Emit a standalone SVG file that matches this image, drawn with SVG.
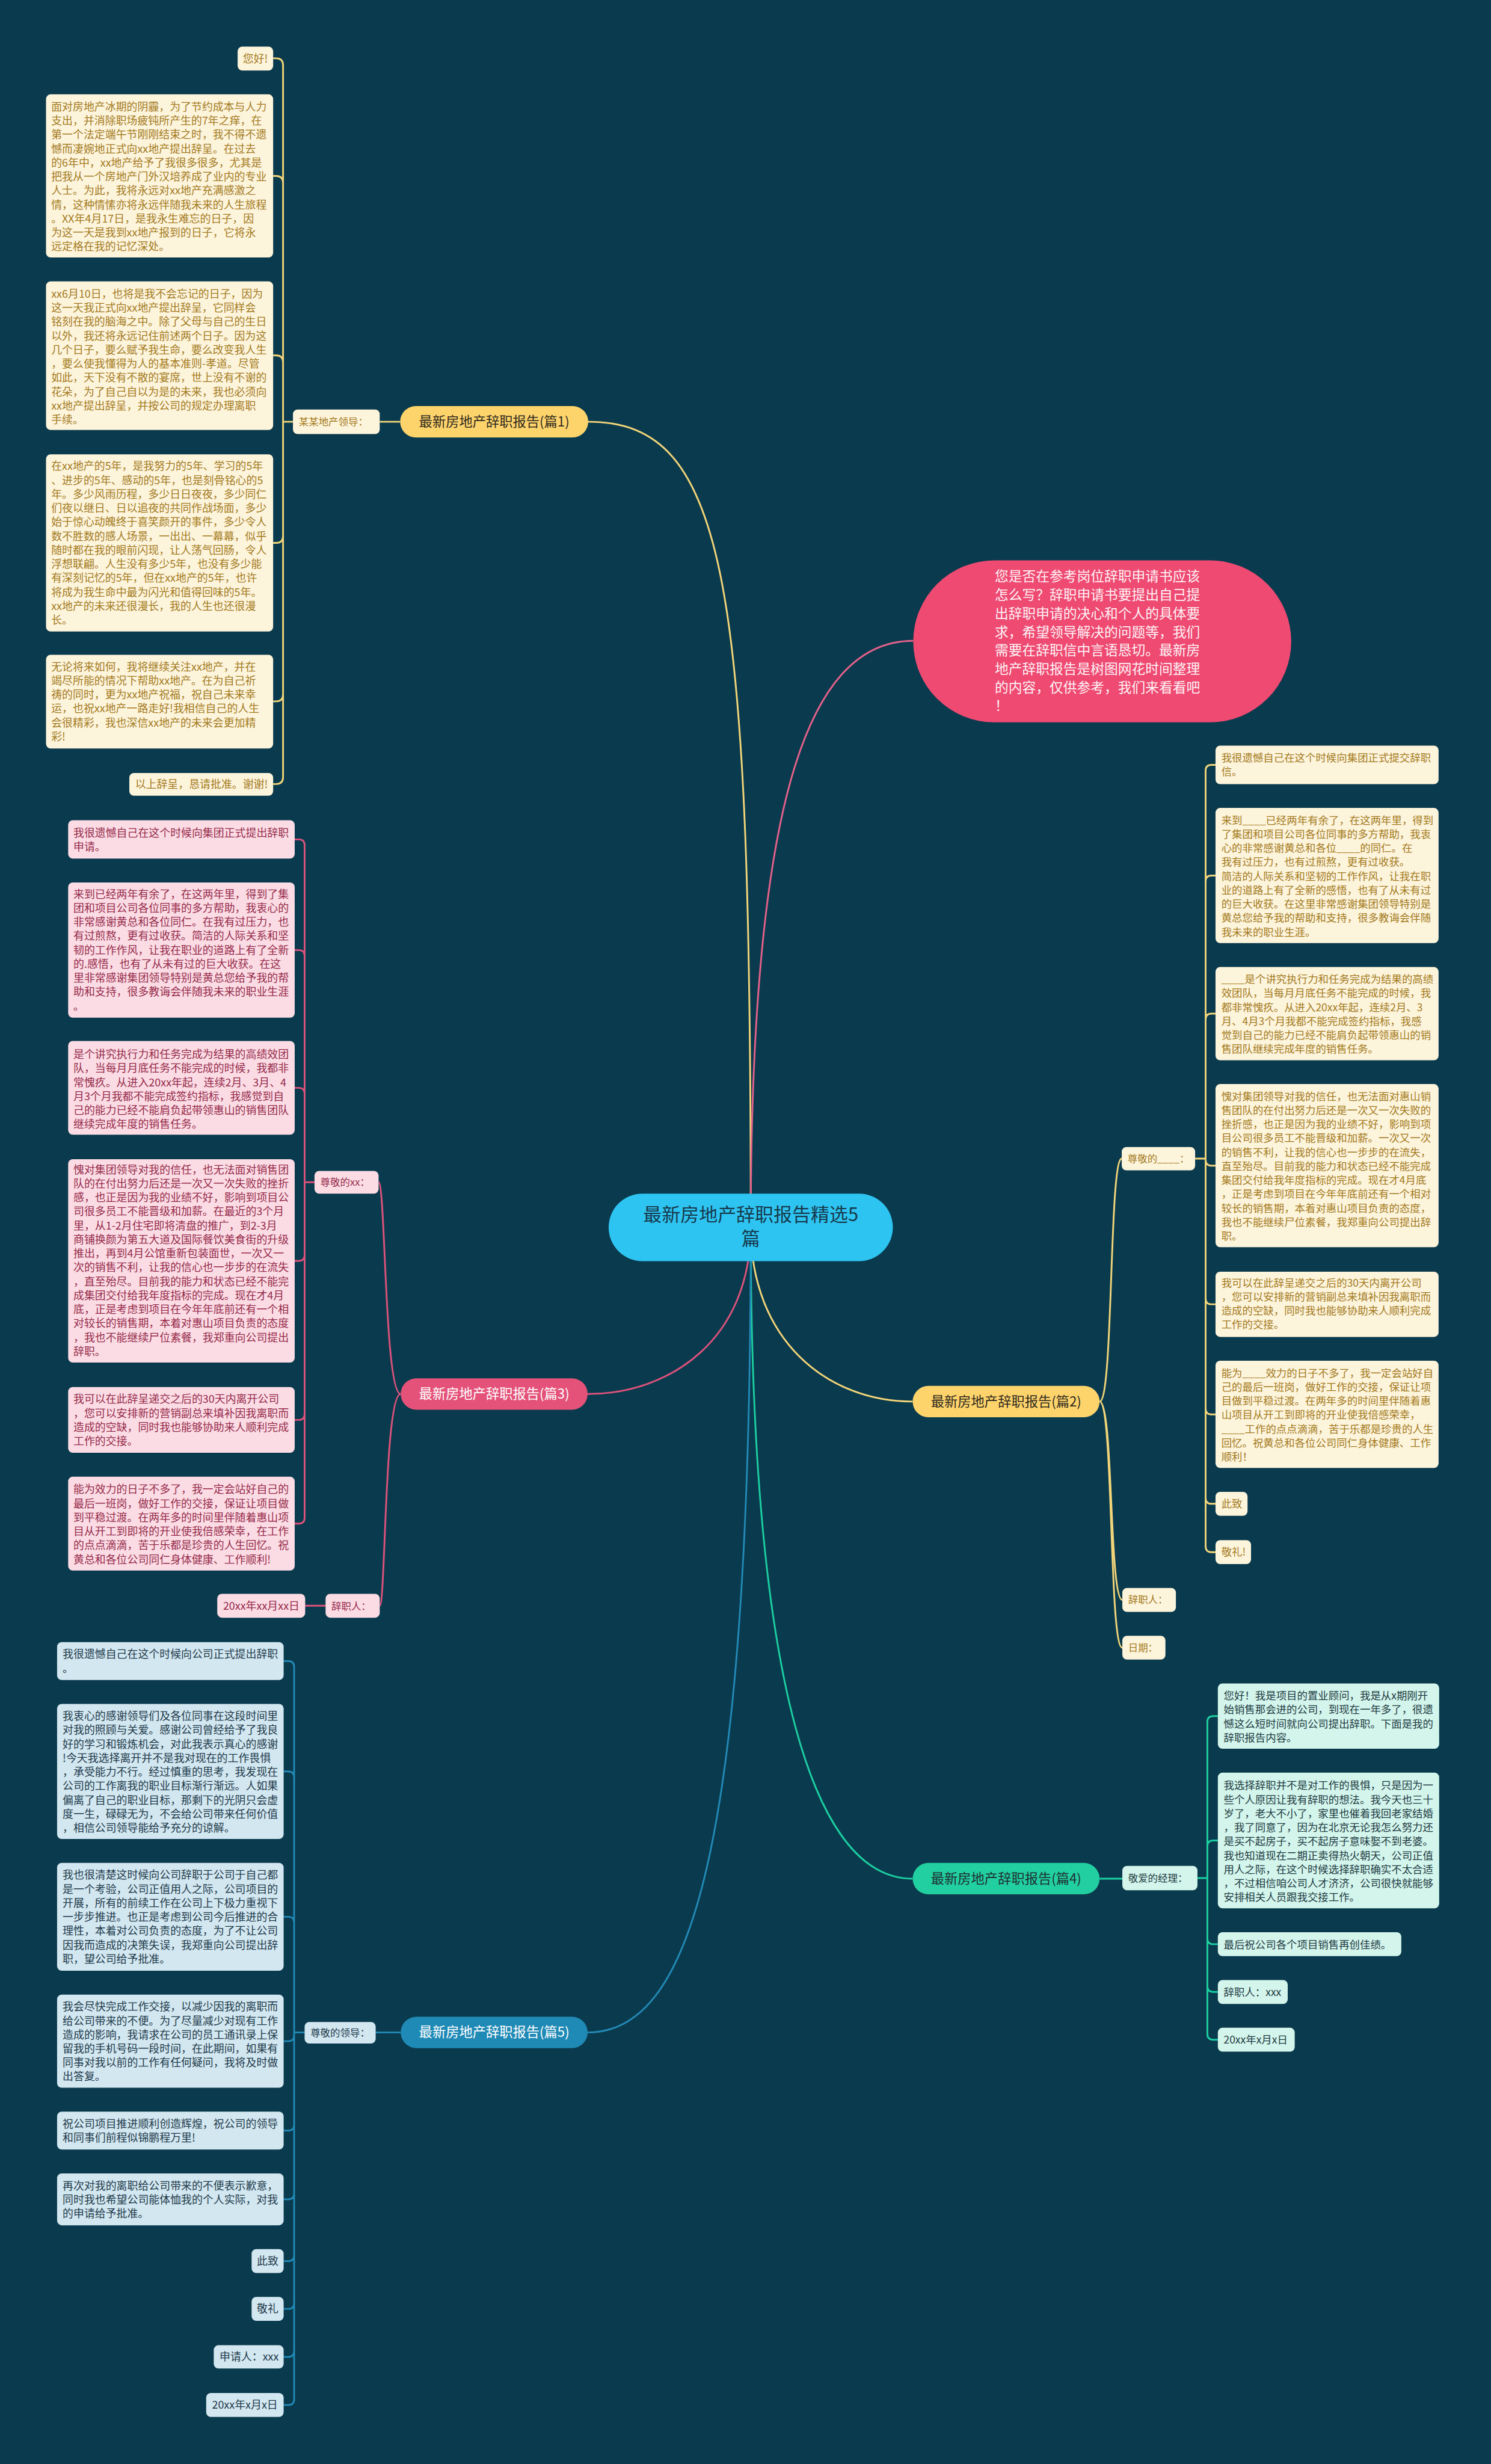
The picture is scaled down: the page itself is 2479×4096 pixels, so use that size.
<svg xmlns="http://www.w3.org/2000/svg" width="2479" height="4096" viewBox="0 0 2479 4096">
<style>
text{font-family:"Noto Sans CJK SC","Noto Sans",sans-serif}
.ty{fill:#a37b1e;font-size:18.5px}
.tyr{fill:#a37b1e;font-size:18px}
.tp{fill:#962b4a;font-size:18.5px}
.tg{fill:#1f3b42;font-size:18px}
.tb{fill:#1f3a4b;font-size:18.5px}
.lbl{font-size:17px}
.by{fill:#fdf4dc}.bp{fill:#fbdce5}.bgn{fill:#d3f5ec}.bb{fill:#d2e7f0}
.cy{stroke:#f2d57a;fill:none;stroke-width:3}
.cp{stroke:#dc527c;fill:none;stroke-width:3}
.cg{stroke:#1ccfa2;fill:none;stroke-width:3}
.cb{stroke:#2289b5;fill:none;stroke-width:3}
.pill{font-size:23px;text-anchor:middle}
</style>
<rect width="2479" height="4096" fill="#0a3a4d"/>
<g transform="scale(0.96836)">
<g id="connectors">
<path class="cy" d="M1289 2107C1289 1000 1250 724 1010 724"/>
<path d="M1289 2107C1289 1400 1380 1100 1568 1100" stroke="#e3618a" stroke-width="3" fill="none"/>
<path class="cp" d="M1289 2107C1289 2300 1150 2393 1009 2393"/>
<path class="cy" d="M1289 2107C1289 2300 1420 2406 1567 2406"/>
<path class="cg" d="M1289 2107C1289 2900 1400 3225 1567 3225"/>
<path class="cb" d="M1289 2107C1289 3200 1180 3489 1009 3489"/>
<path class="cy" d="M687 724H652M503 724H486M486 724V112Q486 100 474 100H469M486 724V314Q486 302 474 302H469M486 724V622Q486 610 474 610H469M486 724V920Q486 932 474 932H469M486 724V1192Q486 1204 474 1204H469M486 724V1334Q486 1346 474 1346H469"/>
<path class="cp" d="M688 2393C660 2393 662 2029.5 650 2029.5M688 2393C660 2393 662 2756.5 652 2756.5M559 2756.5H524M540 2029.5H523M523 2029.5V1451Q523 1441 513 1441H506M523 2029.5V1641Q523 1631 513 1631H506M523 2029.5V1877.5Q523 1867.5 513 1867.5H506M523 2029.5V2154.5Q523 2164.5 513 2164.5H506M523 2029.5V2427.5Q523 2437.5 513 2437.5H506M523 2029.5V2605.5Q523 2615.5 513 2615.5H506"/>
<path class="cb" d="M688 3489H645M523 3489H505M505 3489V2861.5Q505 2851.5 495 2851.5H487M505 3489V3051Q505 3041 495 3041H487M505 3489V3300.5Q505 3290.5 495 3290.5H487M505 3489V3494Q505 3504 495 3504H487M505 3489V3647.5Q505 3657.5 495 3657.5H487M505 3489V3765.5Q505 3775.5 495 3775.5H487M505 3489V3871.5Q505 3881.5 495 3881.5H487M505 3489V3953.5Q505 3963.5 495 3963.5H487M505 3489V4036Q505 4046 495 4046H487M505 3489V4118.5Q505 4128.5 495 4128.5H487"/>
<path class="cy" d="M1888 2406C1912 2406 1904 1989 1926 1989M1888 2406C1912 2406 1904 2746.5 1927 2746.5M1888 2406C1912 2406 1904 2828.5 1927 2828.5M2052 1989H2070M2070 1989V1323Q2070 1313 2080 1313H2087M2070 1989V1513Q2070 1503 2080 1503H2087M2070 1989V1750Q2070 1740 2080 1740H2087M2070 1989V1991Q2070 2001 2080 2001H2087M2070 1989V2229Q2070 2239 2080 2239H2087M2070 1989V2418Q2070 2428 2080 2428H2087M2070 1989V2571.5Q2070 2581.5 2080 2581.5H2087M2070 1989V2654.5Q2070 2664.5 2080 2664.5H2087"/>
<path class="cg" d="M1888 3225H1927M2056 3224H2073M2073 3224V2956Q2073 2946 2083 2946H2091M2073 3224V3169.5Q2073 3159.5 2083 3159.5H2091M2073 3224V3327.5Q2073 3337.5 2083 3337.5H2091M2073 3224V3409.5Q2073 3419.5 2083 3419.5H2091M2073 3224V3491.5Q2073 3501.5 2083 3501.5H2091"/>
</g>

<g id="center">
<rect x="1045" y="2049" width="488" height="116" rx="58" fill="#2ec4f2"/>
<text x="1289" y="2096" font-size="32" fill="#163a4c" text-anchor="middle">最新房地产辞职报告精选5</text>
<text x="1289" y="2138" font-size="32" fill="#163a4c" text-anchor="middle">篇</text>
</g>

<g id="intro">
<rect x="1568" y="962" width="649" height="278" rx="139" fill="#ee4a72"/>
<text x="1708" y="998" font-size="23.5" fill="#fff2f5"><tspan x="1708">您是否在参考岗位辞职申请书应该</tspan><tspan x="1708" dy="31.7">怎么写？辞职申请书要提出自己提</tspan><tspan x="1708" dy="31.7">出辞职申请的决心和个人的具体要</tspan><tspan x="1708" dy="31.7">求，希望领导解决的问题等，我们</tspan><tspan x="1708" dy="31.7">需要在辞职信中言语恳切。最新房</tspan><tspan x="1708" dy="31.7">地产辞职报告是树图网花时间整理</tspan><tspan x="1708" dy="31.7">的内容，仅供参考，我们来看看吧</tspan><tspan x="1708" dy="31.7">！</tspan></text>
</g>

<!-- Section 1 -->
<g id="s1">
<rect x="687" y="697" width="323" height="54" rx="27" fill="#fdd36c"/>
<text class="pill" x="848.5" y="732" fill="#2f2a1c">最新房地产辞职报告(篇1)</text>
</g>
<g id="s1-lead">
<rect class="by" x="503" y="703" width="149" height="42" rx="8"/>
<text class="ty lbl" x="513" y="730">某某地产领导：</text>
</g>
<g id="s1-c0">
<rect class="by" x="408" y="80" width="61" height="41" rx="8"/>
<text class="ty" x="417" y="107">您好!</text>
</g>
<g id="s1-c1">
<rect class="by" x="79" y="162" width="390" height="280" rx="8"/>
<text class="ty" x="88" y="190"><tspan x="88">面对房地产冰期的阴霾，为了节约成本与人力</tspan><tspan x="88" dy="24">支出，并消除职场疲钝所产生的7年之痒，在</tspan><tspan x="88" dy="24">第一个法定端午节刚刚结束之时，我不得不遗</tspan><tspan x="88" dy="24">憾而凄婉地正式向xx地产提出辞呈。在过去</tspan><tspan x="88" dy="24">的6年中，xx地产给予了我很多很多，尤其是</tspan><tspan x="88" dy="24">把我从一个房地产门外汉培养成了业内的专业</tspan><tspan x="88" dy="24">人士。为此，我将永远对xx地产充满感激之</tspan><tspan x="88" dy="24">情，这种情愫亦将永远伴随我未来的人生旅程</tspan><tspan x="88" dy="24">。XX年4月17日，是我永生难忘的日子，因</tspan><tspan x="88" dy="24">为这一天是我到xx地产报到的日子，它将永</tspan><tspan x="88" dy="24">远定格在我的记忆深处。</tspan></text>
</g>
<g id="s1-c2">
<rect class="by" x="79" y="483" width="390" height="255" rx="8"/>
<text class="ty" x="88" y="511"><tspan x="88">xx6月10日，也将是我不会忘记的日子，因为</tspan><tspan x="88" dy="24">这一天我正式向xx地产提出辞呈，它同样会</tspan><tspan x="88" dy="24">铭刻在我的脑海之中。除了父母与自己的生日</tspan><tspan x="88" dy="24">以外，我还将永远记住前述两个日子。因为这</tspan><tspan x="88" dy="24">几个日子，要么赋予我生命，要么改变我人生</tspan><tspan x="88" dy="24">，要么使我懂得为人的基本准则-孝道。尽管</tspan><tspan x="88" dy="24">如此，天下没有不散的宴席，世上没有不谢的</tspan><tspan x="88" dy="24">花朵，为了自己自以为是的未来，我也必须向</tspan><tspan x="88" dy="24">xx地产提出辞呈，并按公司的规定办理离职</tspan><tspan x="88" dy="24">手续。</tspan></text>
</g>
<g id="s1-c3">
<rect class="by" x="79" y="780" width="390" height="304" rx="8"/>
<text class="ty" x="88" y="807"><tspan x="88">在xx地产的5年，是我努力的5年、学习的5年</tspan><tspan x="88" dy="24">、进步的5年、感动的5年，也是刻骨铭心的5</tspan><tspan x="88" dy="24">年。多少风雨历程，多少日日夜夜，多少同仁</tspan><tspan x="88" dy="24">们夜以继日、日以追夜的共同作战场面，多少</tspan><tspan x="88" dy="24">始于惊心动魄终于喜笑颜开的事件，多少令人</tspan><tspan x="88" dy="24">数不胜数的感人场景，一出出、一幕幕，似乎</tspan><tspan x="88" dy="24">随时都在我的眼前闪现，让人荡气回肠，令人</tspan><tspan x="88" dy="24">浮想联翩。人生没有多少5年，也没有多少能</tspan><tspan x="88" dy="24">有深刻记忆的5年，但在xx地产的5年，也许</tspan><tspan x="88" dy="24">将成为我生命中最为闪光和值得回味的5年。</tspan><tspan x="88" dy="24">xx地产的未来还很漫长，我的人生也还很漫</tspan><tspan x="88" dy="24">长。</tspan></text>
</g>
<g id="s1-c4">
<rect class="by" x="79" y="1124" width="390" height="161" rx="8"/>
<text class="ty" x="88" y="1151"><tspan x="88">无论将来如何，我将继续关注xx地产，并在</tspan><tspan x="88" dy="24">竭尽所能的情况下帮助xx地产。在为自己祈</tspan><tspan x="88" dy="24">祷的同时，更为xx地产祝福，祝自己未来幸</tspan><tspan x="88" dy="24">运，也祝xx地产一路走好!我相信自己的人生</tspan><tspan x="88" dy="24">会很精彩，我也深信xx地产的未来会更加精</tspan><tspan x="88" dy="24">彩!</tspan></text>
</g>
<g id="s1-c5">
<rect class="by" x="222" y="1327" width="247" height="39" rx="8"/>
<text class="ty" x="232" y="1353">以上辞呈，恳请批准。谢谢!</text>
</g>

<!-- Section 3 -->
<g id="s3">
<rect x="688" y="2366" width="321" height="54" rx="27" fill="#e4527a"/>
<text class="pill" x="848.5" y="2401" fill="#ffffff">最新房地产辞职报告(篇3)</text>
</g>
<g id="s3-lead">
<rect class="bp" x="540" y="2010" width="110" height="39" rx="8"/>
<text class="tp lbl" x="550" y="2035.5">尊敬的xx：</text>
</g>
<g id="s3-c1">
<rect class="bp" x="117" y="1408" width="389" height="66" rx="8"/>
<text class="tp" x="126" y="1436.5"><tspan x="126">我很遗憾自己在这个时候向集团正式提出辞职</tspan><tspan x="126" dy="24">申请。</tspan></text>
</g>
<g id="s3-c2">
<rect class="bp" x="117" y="1515" width="389" height="232" rx="8"/>
<text class="tp" x="126" y="1541.5"><tspan x="126">来到已经两年有余了，在这两年里，得到了集</tspan><tspan x="126" dy="24">团和项目公司各位同事的多方帮助，我衷心的</tspan><tspan x="126" dy="24">非常感谢黄总和各位同仁。在我有过压力，也</tspan><tspan x="126" dy="24">有过煎熬，更有过收获。简洁的人际关系和坚</tspan><tspan x="126" dy="24">韧的工作作风，让我在职业的道路上有了全新</tspan><tspan x="126" dy="24">的.感悟，也有了从未有过的巨大收获。在这</tspan><tspan x="126" dy="24">里非常感谢集团领导特别是黄总您给予我的帮</tspan><tspan x="126" dy="24">助和支持，很多教诲会伴随我未来的职业生涯</tspan><tspan x="126" dy="24">。</tspan></text>
</g>
<g id="s3-c3">
<rect class="bp" x="117" y="1787" width="389" height="161" rx="8"/>
<text class="tp" x="126" y="1816.5"><tspan x="126">是个讲究执行力和任务完成为结果的高绩效团</tspan><tspan x="126" dy="24">队，当每月月底任务不能完成的时候，我都非</tspan><tspan x="126" dy="24">常愧疚。从进入20xx年起，连续2月、3月、4</tspan><tspan x="126" dy="24">月3个月我都不能完成签约指标，我感觉到自</tspan><tspan x="126" dy="24">己的能力已经不能肩负起带领惠山的销售团队</tspan><tspan x="126" dy="24">继续完成年度的销售任务。</tspan></text>
</g>
<g id="s3-c4">
<rect class="bp" x="117" y="1990" width="389" height="349" rx="8"/>
<text class="tp" x="126" y="2014.5"><tspan x="126">愧对集团领导对我的信任，也无法面对销售团</tspan><tspan x="126" dy="24">队的在付出努力后还是一次又一次失败的挫折</tspan><tspan x="126" dy="24">感，也正是因为我的业绩不好，影响到项目公</tspan><tspan x="126" dy="24">司很多员工不能晋级和加薪。在最近的3个月</tspan><tspan x="126" dy="24">里，从1-2月住宅即将清盘的推广，到2-3月</tspan><tspan x="126" dy="24">商铺换颜为第五大道及国际餐饮美食街的升级</tspan><tspan x="126" dy="24">推出，再到4月公馆重新包装面世，一次又一</tspan><tspan x="126" dy="24">次的销售不利，让我的信心也一步步的在流失</tspan><tspan x="126" dy="24">，直至殆尽。目前我的能力和状态已经不能完</tspan><tspan x="126" dy="24">成集团交付给我年度指标的完成。现在才4月</tspan><tspan x="126" dy="24">底，正是考虑到项目在今年年底前还有一个相</tspan><tspan x="126" dy="24">对较长的销售期，本着对惠山项目负责的态度</tspan><tspan x="126" dy="24">，我也不能继续尸位素餐，我郑重向公司提出</tspan><tspan x="126" dy="24">辞职。</tspan></text>
</g>
<g id="s3-c5">
<rect class="bp" x="117" y="2381" width="389" height="113" rx="8"/>
<text class="tp" x="126" y="2408.5"><tspan x="126">我可以在此辞呈递交之后的30天内离开公司</tspan><tspan x="126" dy="24">，您可以安排新的营销副总来填补因我离职而</tspan><tspan x="126" dy="24">造成的空缺，同时我也能够协助来人顺利完成</tspan><tspan x="126" dy="24">工作的交接。</tspan></text>
</g>
<g id="s3-c6">
<rect class="bp" x="117" y="2535" width="389" height="161" rx="8"/>
<text class="tp" x="126" y="2563.5"><tspan x="126">能为效力的日子不多了，我一定会站好自己的</tspan><tspan x="126" dy="24">最后一班岗，做好工作的交接，保证让项目做</tspan><tspan x="126" dy="24">到平稳过渡。在两年多的时间里伴随着惠山项</tspan><tspan x="126" dy="24">目从开工到即将的开业使我倍感荣幸，在工作</tspan><tspan x="126" dy="24">的点点滴滴，苦于乐都是珍贵的人生回忆。祝</tspan><tspan x="126" dy="24">黄总和各位公司同仁身体健康、工作顺利!</tspan></text>
</g>
<g id="s3-sign">
<rect class="bp" x="559" y="2736" width="93" height="41" rx="8"/>
<text class="tp lbl" x="569" y="2763">辞职人：</text>
</g>
<g id="s3-date">
<rect class="bp" x="373" y="2736" width="151" height="41" rx="8"/>
<text class="tp" x="383" y="2763" font-size="18">20xx年xx月xx日</text>
</g>

<!-- Section 5 -->
<g id="s5">
<rect x="688" y="3462" width="321" height="54" rx="27" fill="#1f8ab5"/>
<text class="pill" x="848.5" y="3497" fill="#ffffff">最新房地产辞职报告(篇5)</text>
</g>
<g id="s5-lead">
<rect class="bb" x="523" y="3471" width="122" height="37" rx="8"/>
<text class="tb lbl" x="533" y="3496">尊敬的领导：</text>
</g>
<g id="s5-c1">
<rect class="bb" x="98" y="2819" width="389" height="65" rx="8"/>
<text class="tb" x="107.5" y="2846.5"><tspan x="107.5">我很遗憾自己在这个时候向公司正式提出辞职</tspan><tspan x="107.5" dy="24">。</tspan></text>
</g>
<g id="s5-c2">
<rect class="bb" x="98" y="2925" width="389" height="232" rx="8"/>
<text class="tb" x="107.5" y="2952.5"><tspan x="107.5">我衷心的感谢领导们及各位同事在这段时间里</tspan><tspan x="107.5" dy="24">对我的照顾与关爱。感谢公司曾经给予了我良</tspan><tspan x="107.5" dy="24">好的学习和锻炼机会，对此我表示真心的感谢</tspan><tspan x="107.5" dy="24">!今天我选择离开并不是我对现在的工作畏惧</tspan><tspan x="107.5" dy="24">，承受能力不行。经过慎重的思考，我发现在</tspan><tspan x="107.5" dy="24">公司的工作离我的职业目标渐行渐远。人如果</tspan><tspan x="107.5" dy="24">偏离了自己的职业目标，那剩下的光阴只会虚</tspan><tspan x="107.5" dy="24">度一生，碌碌无为，不会给公司带来任何价值</tspan><tspan x="107.5" dy="24">，相信公司领导能给予充分的谅解。</tspan></text>
</g>
<g id="s5-c3">
<rect class="bb" x="98" y="3198" width="389" height="185" rx="8"/>
<text class="tb" x="107.5" y="3225.5"><tspan x="107.5">我也很清楚这时候向公司辞职于公司于自己都</tspan><tspan x="107.5" dy="24">是一个考验，公司正值用人之际，公司项目的</tspan><tspan x="107.5" dy="24">开展，所有的前续工作在公司上下极力重视下</tspan><tspan x="107.5" dy="24">一步步推进。也正是考虑到公司今后推进的合</tspan><tspan x="107.5" dy="24">理性，本着对公司负责的态度，为了不让公司</tspan><tspan x="107.5" dy="24">因我而造成的决策失误，我郑重向公司提出辞</tspan><tspan x="107.5" dy="24">职，望公司给予批准。</tspan></text>
</g>
<g id="s5-c4">
<rect class="bb" x="98" y="3424" width="389" height="160" rx="8"/>
<text class="tb" x="107.5" y="3451.5"><tspan x="107.5">我会尽快完成工作交接，以减少因我的离职而</tspan><tspan x="107.5" dy="24">给公司带来的不便。为了尽量减少对现有工作</tspan><tspan x="107.5" dy="24">造成的影响，我请求在公司的员工通讯录上保</tspan><tspan x="107.5" dy="24">留我的手机号码一段时间，在此期间，如果有</tspan><tspan x="107.5" dy="24">同事对我以前的工作有任何疑问，我将及时做</tspan><tspan x="107.5" dy="24">出答复。</tspan></text>
</g>
<g id="s5-c5">
<rect class="bb" x="98" y="3625" width="389" height="65" rx="8"/>
<text class="tb" x="107.5" y="3652.5"><tspan x="107.5">祝公司项目推进顺利创造辉煌，祝公司的领导</tspan><tspan x="107.5" dy="24">和同事们前程似锦鹏程万里!</tspan></text>
</g>
<g id="s5-c6">
<rect class="bb" x="98" y="3731" width="389" height="89" rx="8"/>
<text class="tb" x="107.5" y="3758.5"><tspan x="107.5">再次对我的离职给公司带来的不便表示歉意，</tspan><tspan x="107.5" dy="24">同时我也希望公司能体恤我的个人实际，对我</tspan><tspan x="107.5" dy="24">的申请给予批准。</tspan></text>
</g>
<g id="s5-c7">
<rect class="bb" x="432" y="3861" width="55" height="41" rx="8"/>
<text class="tb" x="441" y="3888">此致</text>
</g>
<g id="s5-c8">
<rect class="bb" x="432" y="3943" width="55" height="41" rx="8"/>
<text class="tb" x="441" y="3970">敬礼</text>
</g>
<g id="s5-c9">
<rect class="bb" x="367" y="4026" width="120" height="40" rx="8"/>
<text class="tb" x="377" y="4052">申请人：xxx</text>
</g>
<g id="s5-c10">
<rect class="bb" x="354" y="4108" width="133" height="41" rx="8"/>
<text class="tb" x="364" y="4135">20xx年x月x日</text>
</g>

<!-- Section 2 -->
<g id="s2">
<rect x="1567" y="2379" width="321" height="54" rx="27" fill="#fdd36c"/>
<text class="pill" x="1727.5" y="2414" fill="#2f2a1c">最新房地产辞职报告(篇2)</text>
</g>
<g id="s2-lead">
<rect class="by" x="1926" y="1969" width="126" height="40" rx="8"/>
<text class="ty lbl" x="1936" y="1995">尊敬的____：</text>
</g>
<g id="s2-c1">
<rect class="by" x="2087" y="1280" width="383" height="66" rx="8"/>
<text class="tyr" x="2097" y="1307.5"><tspan x="2097">我很遗憾自己在这个时候向集团正式提交辞职</tspan><tspan x="2097" dy="24">信。</tspan></text>
</g>
<g id="s2-c2">
<rect class="by" x="2087" y="1387" width="383" height="232" rx="8"/>
<text class="tyr" x="2097" y="1414.5"><tspan x="2097">来到____已经两年有余了，在这两年里，得到</tspan><tspan x="2097" dy="24">了集团和项目公司各位同事的多方帮助，我衷</tspan><tspan x="2097" dy="24">心的非常感谢黄总和各位____的同仁。在</tspan><tspan x="2097" dy="24">我有过压力，也有过煎熬，更有过收获。</tspan><tspan x="2097" dy="24">简洁的人际关系和坚韧的工作作风，让我在职</tspan><tspan x="2097" dy="24">业的道路上有了全新的感悟，也有了从未有过</tspan><tspan x="2097" dy="24">的巨大收获。在这里非常感谢集团领导特别是</tspan><tspan x="2097" dy="24">黄总您给予我的帮助和支持，很多教诲会伴随</tspan><tspan x="2097" dy="24">我未来的职业生涯。</tspan></text>
</g>
<g id="s2-c3">
<rect class="by" x="2087" y="1660" width="383" height="160" rx="8"/>
<text class="tyr" x="2097" y="1687.5"><tspan x="2097">____是个讲究执行力和任务完成为结果的高绩</tspan><tspan x="2097" dy="24">效团队，当每月月底任务不能完成的时候，我</tspan><tspan x="2097" dy="24">都非常愧疚。从进入20xx年起，连续2月、3</tspan><tspan x="2097" dy="24">月、4月3个月我都不能完成签约指标，我感</tspan><tspan x="2097" dy="24">觉到自己的能力已经不能肩负起带领惠山的销</tspan><tspan x="2097" dy="24">售团队继续完成年度的销售任务。</tspan></text>
</g>
<g id="s2-c4">
<rect class="by" x="2087" y="1861" width="383" height="280" rx="8"/>
<text class="tyr" x="2097" y="1888.5"><tspan x="2097">愧对集团领导对我的信任，也无法面对惠山销</tspan><tspan x="2097" dy="24">售团队的在付出努力后还是一次又一次失败的</tspan><tspan x="2097" dy="24">挫折感，也正是因为我的业绩不好，影响到项</tspan><tspan x="2097" dy="24">目公司很多员工不能晋级和加薪。一次又一次</tspan><tspan x="2097" dy="24">的销售不利，让我的信心也一步步的在流失，</tspan><tspan x="2097" dy="24">直至殆尽。目前我的能力和状态已经不能完成</tspan><tspan x="2097" dy="24">集团交付给我年度指标的完成。现在才4月底</tspan><tspan x="2097" dy="24">，正是考虑到项目在今年年底前还有一个相对</tspan><tspan x="2097" dy="24">较长的销售期，本着对惠山项目负责的态度，</tspan><tspan x="2097" dy="24">我也不能继续尸位素餐，我郑重向公司提出辞</tspan><tspan x="2097" dy="24">职。</tspan></text>
</g>
<g id="s2-c5">
<rect class="by" x="2087" y="2183" width="383" height="112" rx="8"/>
<text class="tyr" x="2097" y="2208.5"><tspan x="2097">我可以在此辞呈递交之后的30天内离开公司</tspan><tspan x="2097" dy="24">，您可以安排新的营销副总来填补因我离职而</tspan><tspan x="2097" dy="24">造成的空缺，同时我也能够协助来人顺利完成</tspan><tspan x="2097" dy="24">工作的交接。</tspan></text>
</g>
<g id="s2-c6">
<rect class="by" x="2087" y="2336" width="383" height="184" rx="8"/>
<text class="tyr" x="2097" y="2363.5"><tspan x="2097">能为____效力的日子不多了，我一定会站好自</tspan><tspan x="2097" dy="24">己的最后一班岗，做好工作的交接，保证让项</tspan><tspan x="2097" dy="24">目做到平稳过渡。在两年多的时间里伴随着惠</tspan><tspan x="2097" dy="24">山项目从开工到即将的开业使我倍感荣幸，</tspan><tspan x="2097" dy="24">____工作的点点滴滴，苦于乐都是珍贵的人生</tspan><tspan x="2097" dy="24">回忆。祝黄总和各位公司同仁身体健康、工作</tspan><tspan x="2097" dy="24">顺利！</tspan></text>
</g>
<g id="s2-c7">
<rect class="by" x="2087" y="2561" width="55" height="41" rx="8"/>
<text class="tyr" x="2097" y="2588">此致</text>
</g>
<g id="s2-c8">
<rect class="by" x="2087" y="2644" width="61" height="41" rx="8"/>
<text class="tyr" x="2097" y="2671">敬礼!</text>
</g>
<g id="s2-sign">
<rect class="by" x="1927" y="2726" width="92" height="41" rx="8"/>
<text class="ty lbl" x="1937" y="2752">辞职人：</text>
</g>
<g id="s2-date">
<rect class="by" x="1927" y="2808" width="74" height="41" rx="8"/>
<text class="ty lbl" x="1937" y="2835">日期：</text>
</g>

<!-- Section 4 -->
<g id="s4">
<rect x="1567" y="3198" width="321" height="54" rx="27" fill="#22cfa0"/>
<text class="pill" x="1727.5" y="3233" fill="#1d2f33">最新房地产辞职报告(篇4)</text>
</g>
<g id="s4-lead">
<rect class="bgn" x="1927" y="3203" width="129" height="42" rx="8"/>
<text class="tg lbl" x="1937" y="3230">敬爱的经理：</text>
</g>
<g id="s4-c1">
<rect class="bgn" x="2091" y="2890" width="380" height="112" rx="8"/>
<text class="tg" x="2101" y="2917.5"><tspan x="2101">您好！我是项目的置业顾问，我是从x期刚开</tspan><tspan x="2101" dy="24">始销售那会进的公司，到现在一年多了，很遗</tspan><tspan x="2101" dy="24">憾这么短时间就向公司提出辞职。下面是我的</tspan><tspan x="2101" dy="24">辞职报告内容。</tspan></text>
</g>
<g id="s4-c2">
<rect class="bgn" x="2091" y="3043" width="380" height="233" rx="8"/>
<text class="tg" x="2101" y="3071.5"><tspan x="2101">我选择辞职并不是对工作的畏惧，只是因为一</tspan><tspan x="2101" dy="24">些个人原因让我有辞职的想法。我今天也三十</tspan><tspan x="2101" dy="24">岁了，老大不小了，家里也催着我回老家结婚</tspan><tspan x="2101" dy="24">，我了同意了，因为在北京无论我怎么努力还</tspan><tspan x="2101" dy="24">是买不起房子，买不起房子意味娶不到老婆。</tspan><tspan x="2101" dy="24">我也知道现在二期正卖得热火朝天，公司正值</tspan><tspan x="2101" dy="24">用人之际，在这个时候选择辞职确实不太合适</tspan><tspan x="2101" dy="24">，不过相信咱公司人才济济，公司很快就能够</tspan><tspan x="2101" dy="24">安排相关人员跟我交接工作。</tspan></text>
</g>
<g id="s4-c3">
<rect class="bgn" x="2091" y="3317" width="315" height="41" rx="8"/>
<text class="tg" x="2101" y="3344.5">最后祝公司各个项目销售再创佳绩。</text>
</g>
<g id="s4-c4">
<rect class="bgn" x="2091" y="3399" width="120" height="41" rx="8"/>
<text class="tg" x="2101" y="3426">辞职人：xxx</text>
</g>
<g id="s4-c5">
<rect class="bgn" x="2091" y="3481" width="132" height="41" rx="8"/>
<text class="tg" x="2101" y="3508">20xx年x月x日</text>
</g>
</g>
</svg>
